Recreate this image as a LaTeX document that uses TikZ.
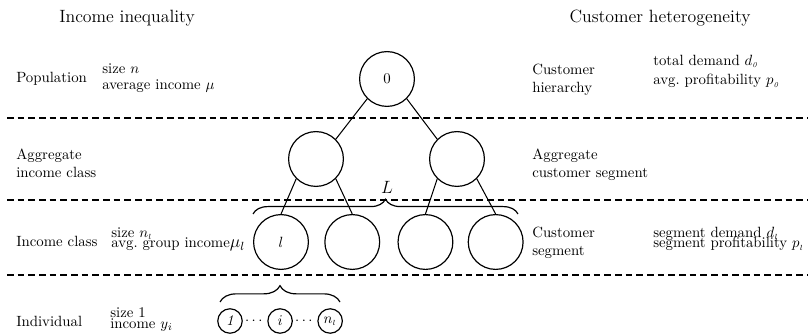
\documentclass[tikz,border=0pt]{standalone}
\usepackage{amsmath,amssymb}
\usepackage{tikz}
\usetikzlibrary{positioning,calc,decorations.pathreplacing}

\begin{document}
\begin{tikzpicture}[x=0.675pt,y=-0.675pt,
  lvl/.style={circle,draw,line width=0.8pt,minimum size=37pt,inner sep=0pt},
  ind/.style={circle,draw,line width=0.8pt,minimum size=16.5pt,inner sep=0pt},
  sep/.style={line width=0.7pt,dash pattern=on 4.5pt off 2.7pt},
  lbl/.style={inner sep=0pt,align=left,anchor=north west},
  link/.style={line width=0.7pt},
  brc/.style={decorate,decoration={brace,amplitude=#1},line width=0.8pt}]
\useasboundingbox (0,0) rectangle (808,336);

% titles
\node (tl) [font=\large,anchor=base,inner sep=0pt] at (127,23) {Income inequality};
\node (tr) [font=\large,anchor=base,inner sep=0pt] at (660,23) {Customer heterogeneity};

% level separators
\foreach \y in {118,200,275}
  \draw[sep] (7,\y) -- (808,\y);

% left column
\node (pop) [lbl,anchor=base west] at (16,83) {Population};
\node (popv) [lbl] at (102,63) {size $n$\\[-1.2pt]average income $\mu$};
\node (agg) [lbl] at (16,149) {Aggregate\\income class};
\node (cls) [lbl,anchor=base west] at (16,247) {Income class};
\node (clsv) [lbl] at (111,227) {size $n_{\scriptscriptstyle l}$\\[-5pt]avg.\ group income{\large$\mu_l$}};
\node (indl) [lbl,anchor=base west] at (16,326) {Individual};
\node (indv) [lbl] at (110,307) {size 1\\[-4.5pt]income $y_i$};

% right column
\node (hier) [lbl] at (532,64) {Customer\\hierarchy};
\node (hierv) [lbl] at (653,55) {total demand $d_{\scriptscriptstyle\mathit{0}}$\\[1pt]avg.\ profitability $p_{\scriptscriptstyle\mathit{0}}$};
\node (aggr) [lbl] at (532,149) {Aggregate\\customer segment};
\node (seg) [lbl] at (532,227) {Customer\\segment};
\node (segv) [lbl] at (653,227) {segment demand $d_{\scriptscriptstyle l}$\\[-5pt]segment profitability $p_{\scriptscriptstyle l}$};

% tree
\node (root) [lvl] at (387,79) {0};
\node (a1) [lvl] at (316,159) {};
\node (a2) [lvl] at (457,159) {};
\node (c1) [lvl] at (281,242) {$l$};
\node (c2) [lvl,right=10.3pt of c1] {};
\node (c3) [lvl,right=11.6pt of c2] {};
\node (c4) [lvl,right=9.6pt of c3] {};

\draw[link] (root.south west) -- (a1.north east);
\draw[link] (root.south east) -- (a2.north west);
\draw[link] (a1.south west) -- (c1.north);
\draw[link] (a1.south east) -- (c2.north);
\draw[link] (a2.south west) -- (c3.north);
\draw[link] (a2.south east) -- (c4.north);

\draw[brc=10pt] (253,214) -- (518,214);
\node (L) [font=\large] at (387,187) {$L$};

% individuals
\node (i1) [ind] at (230,321) {\textit{1}};
\node (ii) [ind,right=16.5pt of i1] {$i$};
\node (in) [ind,right=16.5pt of ii] {$n_{\scriptscriptstyle l}$};
\node (d1) at ($(i1)!0.5!(ii)$) {$\cdots$};
\node (d2) at ($(ii)!0.5!(in)$) {$\cdots$};

\draw[brc=11pt] (220,302) -- (340,302);
\end{tikzpicture}
\end{document}
